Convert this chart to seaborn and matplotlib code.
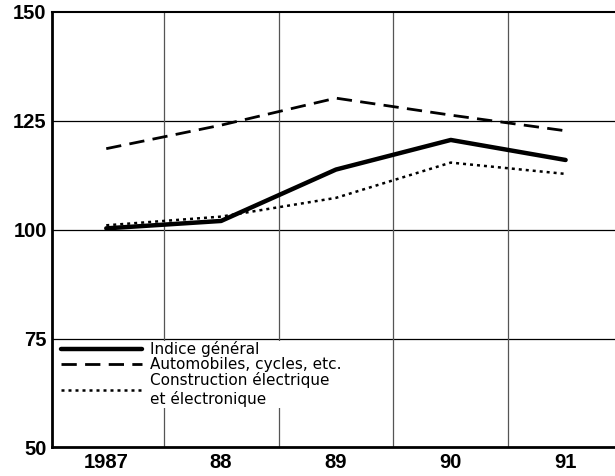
import seaborn as sns
import matplotlib.pyplot as plt
import pandas as pd

years = ["1987", "88", "89", "90", "91"]
indice_general = [100.3, 102.0, 113.8, 120.6, 116.0]
automobiles = [118.6, 124.0, 130.2, 126.3, 122.7]
construction = [101.0, 103.0, 107.3, 115.4, 112.8]

sns.set_style("white")
plt.rcParams['font.family'] = ['Liberation Sans', 'DejaVu Sans']
plt.rcParams['text.color'] = 'black'

df = pd.DataFrame({"pos": range(len(years)), "gen": indice_general,
                   "auto": automobiles, "cons": construction})

fig = plt.figure(figsize=(6.15, 4.76), dpi=100)
ax = fig.add_axes([0.085, 0.06, 0.915, 0.915])

sns.lineplot(data=df, x="pos", y="gen", ax=ax, color="black", lw=3.2,
             label="Indice général")
sns.lineplot(data=df, x="pos", y="auto", ax=ax, color="black", lw=2.0,
             dashes=False, label="Automobiles, cycles, etc.")
ax.lines[-1].set_dashes((5.5, 3))
sns.lineplot(data=df, x="pos", y="cons", ax=ax, color="black", lw=1.8,
             label="Construction électrique\net électronique")
ax.lines[-1].set_dashes((1.2, 1.6))

ax.set_xlim(-0.47, 4.43)
ax.set_ylim(50, 150)
ax.set_yticks([50, 75, 100, 125, 150])
ax.set_xticks(range(len(years)))
ax.set_xticklabels(years)
ax.set_xlabel("")
ax.set_ylabel("")
ax.tick_params(length=0, labelsize=14.5, pad=4, labelcolor="black")
for t in ax.get_xticklabels() + ax.get_yticklabels():
    t.set_fontweight("bold")

for y in [75, 100, 125]:
    ax.axhline(y, color="black", lw=0.9, zorder=0)
for x in [0.5, 1.5, 2.5, 3.5]:
    ax.axvline(x, color="#555555", lw=0.9, zorder=0)

for s in ["left", "bottom"]:
    ax.spines[s].set_linewidth(2.0)
ax.spines["top"].set_linewidth(1.5)
ax.spines["right"].set_visible(False)
for s in ax.spines.values():
    s.set_color("black")

leg = ax.legend(loc="upper left", bbox_to_anchor=(0.0, 0.263),
                prop={"family": "DejaVu Sans", "size": 11},
                handlelength=5.3, handletextpad=0.55, labelspacing=0.0,
                frameon=True, facecolor="white", edgecolor="none",
                borderpad=0.05, fancybox=False, framealpha=1)
for t in leg.get_texts():
    t.set_color("black")

fig.savefig("out.png", dpi=100)
